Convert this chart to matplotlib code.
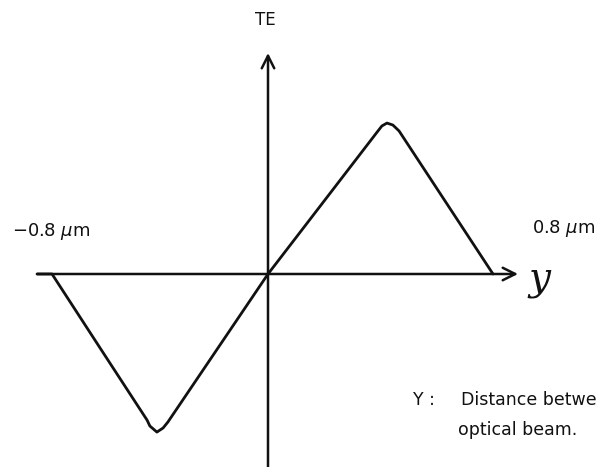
import matplotlib
matplotlib.use("Agg")
import matplotlib.pyplot as plt

# TE signal vs. position y (um)
y_pos = [-0.821, -0.768, -0.597, -0.430, -0.420, -0.395, -0.373, -0.356,
         0.0, 0.391, 0.405, 0.423, 0.444, 0.466, 0.80]
te = [0.0, 0.0, -0.487, -0.961, -1.0, -1.04, -1.013, -0.974,
      0.0, 0.941, 0.974, 0.993, 0.980, 0.941, 0.0]

x_left_label = "\u22120.8 $\\mu$m"
x_right_label = "0.8 $\\mu$m"

plt.rcParams['font.family'] = ['DejaVu Sans']

W, H = 599, 467
fig = plt.figure(figsize=(W / 100, H / 100), dpi=100)
ax = fig.add_axes([0, 0, 1, 1])
# 281.25 px per um, 152 px per TE unit, origin at (268, 274) px
ax.set_xlim(-268 / 281.25, 331 / 281.25)
ax.set_ylim(-193 / 152, 274 / 152)
ax.axis("off")

ink = "#111111"
arrow = dict(arrowstyle="->,head_length=0.9,head_width=0.45",
             lw=1.8, color=ink, shrinkA=0, shrinkB=0)

# axes with open arrow heads
ax.annotate("", xy=(250 / 281.25, 0), xytext=(-231 / 281.25, 0), arrowprops=arrow)
ax.annotate("", xy=(0, 221 / 152), xytext=(0, -200 / 152), arrowprops=arrow)

ax.plot(y_pos, te, color=ink, lw=2.0, solid_joinstyle="round", solid_capstyle="round")


def put(px, py, s, **kw):
    ax.text(px / W, 1 - py / H, s, transform=ax.transAxes, color=ink, **kw)


put(265, 20, "TE", fontsize=12, ha="center", va="center")
put(12, 232, x_left_label, fontsize=13, ha="left", va="center")
put(532, 229, x_right_label, fontsize=13, ha="left", va="center")
put(528, 279, "y", fontsize=28, ha="left", va="center",
    family="DejaVu Serif", style="italic")

put(413, 405, "Y :", fontsize=12.5, ha="left", va="baseline")
put(461, 405, "Distance betwe", fontsize=12.5, ha="left", va="baseline")
put(458, 435, "optical beam.", fontsize=12.5, ha="left", va="baseline")

fig.savefig("out.png", dpi=100, facecolor="white")
